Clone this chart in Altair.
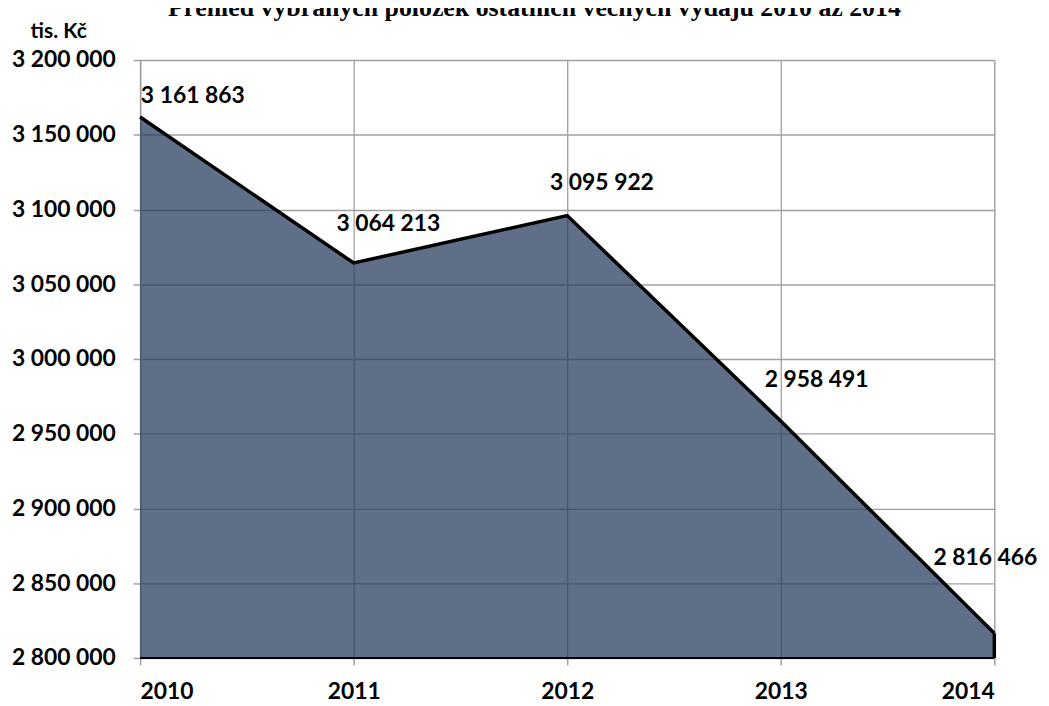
import altair as alt
import pandas as pd

years = [2010, 2011, 2012, 2013, 2014]
values = [3161863, 3064213, 3095922, 2958491, 2816466]
y_ticks = [2800000, 2850000, 2900000, 2950000, 3000000, 3050000, 3100000, 3150000, 3200000]
title_text = "Přehled vybraných položek ostatních věcných výdajů 2010 až 2014"
unit_text = "tis. Kč"

# label offsets (style): dx, dy per point
label_offsets = [(53, -21), (35, -39), (35, -33), (36, -41), (-9, -76)]

df = pd.DataFrame({"year": years, "value": values})
df["label"] = [f"{v:,}".replace(",", " ") for v in values]

FONT = "Lato"
GRID = "#a0a0a0"
FS = 23

x = alt.X("year:Q", scale=alt.Scale(domain=[2010, 2014], nice=False),
          axis=alt.Axis(values=years, format="d", title=None, grid=True,
                        gridColor=GRID, gridWidth=1.3, domainColor=GRID, domainWidth=1.5,
                        tickColor=GRID, tickSize=7, tickWidth=1.5,
                        labelFont=FONT, labelFontWeight="bold", labelFontSize=FS,
                        labelColor="black", labelPadding=16))
y = alt.Y("value:Q", scale=alt.Scale(domain=[2800000, 3200000], nice=False, zero=False),
          axis=alt.Axis(values=y_ticks, title=None, grid=True,
                        labelExpr="replace(format(datum.value, ',d'), regexp(',', 'g'), ' ')",
                        gridColor=GRID, gridWidth=1.3, domainColor=GRID, domainWidth=1.5,
                        tickColor=GRID, tickSize=7, tickWidth=1.5,
                        labelFont=FONT, labelFontWeight="bold", labelFontSize=FS,
                        labelColor="black", labelPadding=18))

base = alt.Chart(df)

area = base.mark_area(color="#2b3f60", opacity=0.75).encode(x=x, y=y, y2=alt.datum(2800000))
line = base.mark_line(color="black", strokeWidth=3.5).encode(x=x, y=y)
edge = base.transform_filter(alt.datum.year == 2014).mark_rule(color="black", strokeWidth=3.5).encode(
    x=x, y=y, y2=alt.datum(2800000))
bottom = base.transform_filter(alt.datum.year == 2010).mark_rule(color="black", strokeWidth=2).encode(
    x=x, x2=alt.datum(2014), y=alt.datum(2800000))

labels = []
for yr, (dx, dy) in zip(years, label_offsets):
    labels.append(
        base.transform_filter(alt.datum.year == yr).mark_text(
            font=FONT, fontWeight="bold", fontSize=FS, color="black",
            dx=dx, dy=dy, align="center", baseline="middle"
        ).encode(x=x, y=y, text="label:N")
    )

title = alt.Chart(pd.DataFrame({"t": [title_text]})).mark_text(
    font="Liberation Serif", fontWeight="bold", fontSize=26, color="black",
    align="center", baseline="alphabetic"
).encode(x=alt.value(397), y=alt.value(-44), text="t:N")

unit = alt.Chart(pd.DataFrame({"t": [unit_text]})).mark_text(
    font=FONT, fontWeight="bold", fontSize=21, color="black",
    align="center", baseline="middle"
).encode(x=alt.value(-82), y=alt.value(-28), text="t:N")

chart = alt.layer(area, line, bottom, edge, *labels, title, unit).properties(
    width=860, height=602,
    autosize=alt.AutoSizeParams(type="none"),
    padding={"left": 133, "top": 50, "right": 47, "bottom": 46},
).configure_view(stroke=None).configure(background="white")

chart.save("out.html", embed_options={"renderer": "svg", "actions": False})
